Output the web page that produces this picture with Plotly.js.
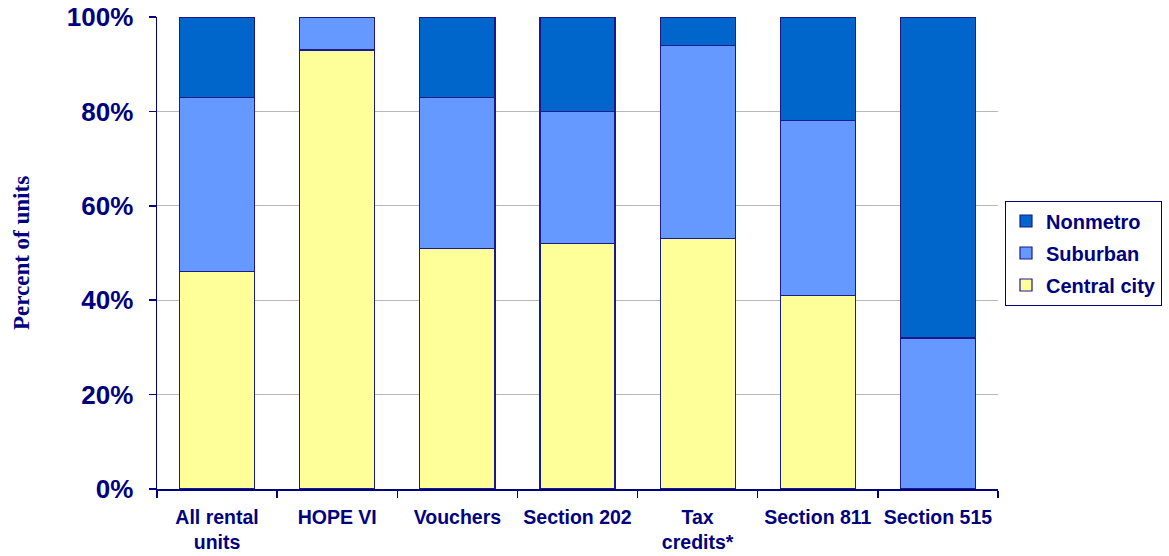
<!DOCTYPE html>
<html>
<head>
<meta charset="utf-8">
<script src="https://cdn.plot.ly/plotly-3.0.1.min.js"></script>
<style>html,body{margin:0;padding:0;background:#fff;}#chart{width:1169px;height:556px;}</style>
</head>
<body>
<div id="chart"></div>
<script>
const categories = ["All rental<br>units", "HOPE VI", "Vouchers", "Section 202", "Tax<br>credits*", "Section 811", "Section 515"];
const centralCity = [46, 93, 51, 52, 53, 41, 0];
const suburban = [37, 7, 32, 28, 41, 37, 32];
const nonmetro = [17, 0, 17, 20, 6, 22, 68];
const yTickVals = [0, 20, 40, 60, 80, 100];
const yTickText = ["0%", "20%", "40%", "60%", "80%", "100%"];

const navy = "#000080";
const outline = {color: "#1a1a8c", width: 1.2};

const traces = [
  {type: "bar", name: "Central city", legendgroup: "c", legendrank: 3, x: categories, y: centralCity, marker: {color: "#FFFF99", line: outline}},
  {type: "bar", name: "Suburban", legendgroup: "s", legendrank: 2, x: categories, y: suburban, marker: {color: "#6699FF", line: outline}},
  {type: "bar", name: "Nonmetro", legendgroup: "n", legendrank: 1, x: categories, y: nonmetro, marker: {color: "#0066CC", line: outline}}
];

const layout = {
  width: 1169, height: 556,
  margin: {l: 157, r: 171, t: 17, b: 67},
  paper_bgcolor: "#ffffff", plot_bgcolor: "#ffffff",
  barmode: "stack",
  bargap: 0.375,
  showlegend: true,
  legend: {
    xref: "container", yref: "container",
    x: 1005 / 1169, xanchor: "left", y: 1 - 253 / 556, yanchor: "middle",
    traceorder: "grouped",
    font: {family: "Liberation Sans, Arial, sans-serif", size: 20, color: navy, weight: "bold"},
    bordercolor: navy, borderwidth: 1, bgcolor: "#ffffff",
    itemwidth: 30, tracegroupgap: 3
  },
  xaxis: {
    type: "category",
    showline: true, linecolor: navy, linewidth: 1.5,
    ticks: "outside", tickson: "boundaries", ticklen: 7, tickcolor: navy, tickwidth: 1.5,
    ticklabelstandoff: 10,
    tickfont: {family: "Liberation Sans, Arial, sans-serif", size: 19.5, color: navy, weight: "bold"},
    showgrid: false, fixedrange: true
  },
  yaxis: {
    range: [0, 100],
    tickvals: yTickVals, ticktext: yTickText,
    showline: true, linecolor: navy, linewidth: 1.5,
    ticks: "outside", ticklen: 7, tickcolor: navy, tickwidth: 1.5,
    ticklabelstandoff: 10,
    tickfont: {family: "Liberation Sans, Arial, sans-serif", size: 26, color: navy, weight: "bold"},
    showgrid: true, gridcolor: "#b8b8b8", gridwidth: 1,
    zeroline: false,
    title: {text: "Percent of units", font: {family: "Liberation Serif, Times New Roman, serif", size: 23, color: navy, weight: "bold"}, standoff: 30},
    fixedrange: true
  }
};

Plotly.newPlot("chart", traces, layout, {displayModeBar: false, staticPlot: true});
</script>
</body>
</html>
